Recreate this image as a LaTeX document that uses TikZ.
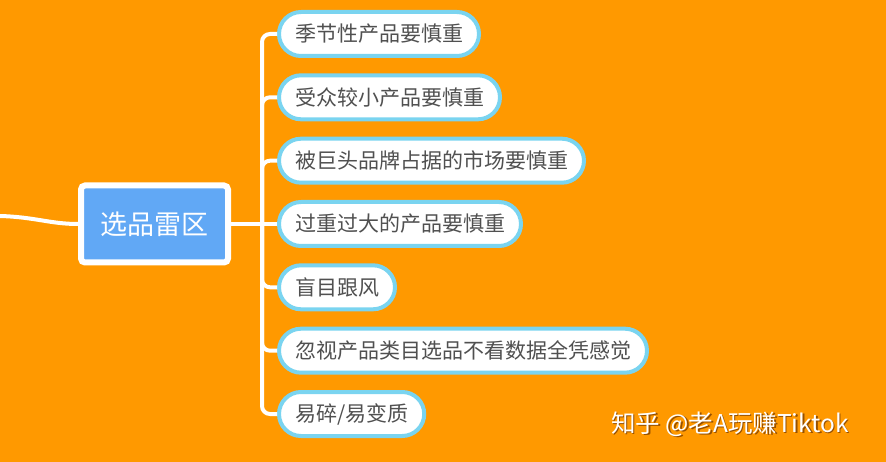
\documentclass[tikz,border=0pt]{standalone}
\usepackage{fontspec}
\setmainfont{Noto Sans CJK SC}
\usetikzlibrary{positioning}
\definecolor{bgorange}{RGB}{255,153,0}
\definecolor{rootblue}{RGB}{97,168,245}
\definecolor{leafedge}{RGB}{122,212,240}
\definecolor{leaftext}{RGB}{80,80,80}
\definecolor{shade}{RGB}{150,80,0}
\begin{document}
\begin{tikzpicture}[x=1pt,y=-1pt]
\tikzset{root/.style={draw=white,line width=6pt,fill=rootblue,rounded corners=4pt,minimum width=147pt,minimum height=77pt,text=white,font=\fontsize{27}{32}\selectfont},
  leaf/.style={draw=leafedge,line width=4pt,fill=white,rounded corners=22pt,minimum height=44pt,inner xsep=16pt,anchor=west,text=leaftext,font=\fontsize{21}{25}\selectfont},
  link/.style={draw=white,line width=4pt,rounded corners=8pt},
  credit/.style={text=white,font=\fontsize{24.5}{29}\selectfont}}
\useasboundingbox (0,0) rectangle (886,462);
\fill[bgorange] (0,0) rectangle (886,462);
% centre topic and its branches
\node[root] (zone) at (154.5,224) {选品雷区};
\node[leaf] (seasonal) at (277,34) {季节性产品要慎重};
\node[leaf] (niche) at (277,97.3) {受众较小产品要慎重};
\node[leaf] (giants) at (277,160.7) {被巨头品牌占据的市场要慎重};
\node[leaf] (bulky) at (277,224) {过重过大的产品要慎重};
\node[leaf] (trend) at (277,287.3) {盲目跟风};
\node[leaf] (nodata) at (277,350.7) {忽视产品类目选品不看数据全凭感觉};
\node[leaf] (fragile) at (277,414) {易碎/易变质};
\coordinate (in) at (0,216);
\coordinate (spine) at (262,224);
\draw[link] (in) .. controls (35,217) and (50,224) .. (zone.west);
\draw[link] (zone.east) -- (spine);
\draw[link] (spine) |- (seasonal.west);
\draw[link] (spine) |- (niche.west);
\draw[link] (spine) |- (giants.west);
\draw[link] (spine) -- (bulky.west);
\draw[link] (spine) |- (trend.west);
\draw[link] (spine) |- (nodata.west);
\draw[link] (spine) |- (fragile.west);
% watermark
\node[credit,text=shade] (creditshade) at (731.5,425.5) {知乎 @老A玩赚Tiktok};
\node[credit] (creditmark) at (730,424) {知乎 @老A玩赚Tiktok};
\end{tikzpicture}
\end{document}
